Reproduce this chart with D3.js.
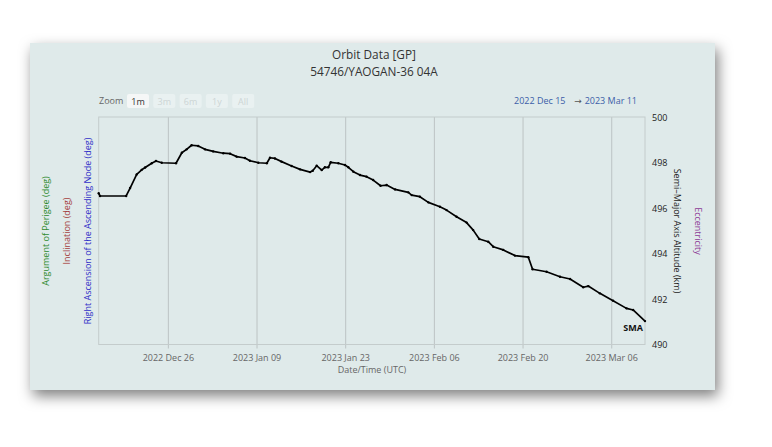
<!DOCTYPE html>
<html><head><meta charset="utf-8">
<script src="https://cdn.jsdelivr.net/npm/d3@7"></script>
<style>
html,body{margin:0;padding:0;background:#fff;}
svg{display:block;font-family:"Open Sans","DejaVu Sans",sans-serif;}
</style></head>
<body>
<svg id="chart" width="772" height="447"></svg>
<script>
// ---- data ----
const titleText = "Orbit Data [GP]";
const subtitleText = "54746/YAOGAN-36 04A";
const zoomButtons = ["1m","3m","6m","1y","All"];
const rangeStart = "2022 Dec 15", rangeEnd = "2023 Mar 11";
const xDomain = ["2022-12-15T02:00Z","2023-03-11T08:00Z"];
const xTicks = ["2022-12-26","2023-01-09","2023-01-23","2023-02-06","2023-02-20","2023-03-06"];
const yTicks = [490,492,494,496,498,500];
const smaTimes = [
"2022-12-15T02:00Z","2022-12-15T07:00Z","2022-12-19T10:00Z","2022-12-20T01:00Z","2022-12-21T02:00Z",
"2022-12-21T21:00Z","2022-12-22T10:00Z","2022-12-23T11:00Z","2022-12-24T03:00Z","2022-12-25T01:00Z",
"2022-12-27T07:00Z","2022-12-28T05:00Z","2022-12-28T23:00Z","2022-12-29T18:00Z","2022-12-30T19:00Z",
"2022-12-31T21:00Z","2023-01-02T04:00Z","2023-01-03T18:00Z","2023-01-04T20:00Z","2023-01-05T21:00Z",
"2023-01-07T04:00Z","2023-01-07T23:00Z","2023-01-09T07:00Z","2023-01-10T15:00Z","2023-01-11T03:00Z",
"2023-01-11T22:00Z","2023-01-12T23:00Z","2023-01-14T13:00Z","2023-01-15T21:00Z","2023-01-17T11:00Z",
"2023-01-17T21:00Z","2023-01-18T12:00Z","2023-01-19T07:00Z","2023-01-19T19:00Z","2023-01-20T08:00Z",
"2023-01-20T17:00Z","2023-01-21T22:00Z","2023-01-22T23:00Z","2023-01-23T12:00Z","2023-01-24T07:00Z",
"2023-01-25T08:00Z","2023-01-26T09:00Z","2023-01-27T10:00Z","2023-01-28T14:00Z","2023-01-29T13:00Z",
"2023-01-30T21:00Z","2023-02-01T23:00Z","2023-02-02T12:00Z","2023-02-03T19:00Z","2023-02-05T03:00Z",
"2023-02-06T23:00Z","2023-02-08T00:00Z","2023-02-09T14:00Z","2023-02-11T04:00Z","2023-02-12T05:00Z",
"2023-02-13T04:00Z","2023-02-14T14:00Z","2023-02-15T09:00Z","2023-02-16T23:00Z","2023-02-18T19:00Z",
"2023-02-20T22:00Z","2023-02-21T14:00Z","2023-02-23T19:00Z","2023-02-25T22:00Z","2023-02-27T12:00Z",
"2023-03-01T14:00Z","2023-03-02T09:00Z","2023-03-04T05:00Z","2023-03-06T07:00Z","2023-03-08T10:00Z",
"2023-03-09T11:00Z","2023-03-11T08:00Z"];
const smaValues = [
496.67,496.55,496.55,496.90,497.50,
497.70,497.80,497.99,498.09,498.01,
497.99,498.45,498.60,498.78,498.75,
498.60,498.51,498.43,498.41,498.28,
498.22,498.10,498.01,497.99,498.23,
498.20,498.06,497.87,497.72,497.60,
497.66,497.88,497.69,497.81,497.81,
498.03,497.99,497.91,497.81,497.62,
497.47,497.40,497.25,497.00,497.03,
496.84,496.71,496.59,496.52,496.27,
496.08,495.93,495.64,495.38,495.05,
494.66,494.54,494.32,494.18,493.93,
493.86,493.33,493.22,493.00,492.90,
492.54,492.59,492.27,491.95,491.61,
491.54,491.05];

// ---- layout ----
const svg = d3.select("#chart");
const panel = {x:30, y:43, w:685, h:347};
const plot = {l:98.7, r:645, t:117, b:344.5};

const defs = svg.append("defs");
const f = defs.append("filter").attr("id","sh").attr("x","-10%").attr("y","-15%").attr("width","125%").attr("height","140%");
f.append("feDropShadow").attr("dx",3).attr("dy",6).attr("stdDeviation",7).attr("flood-color","#000").attr("flood-opacity",0.5);

svg.append("rect").attr("x",panel.x).attr("y",panel.y).attr("width",panel.w).attr("height",panel.h)
  .attr("fill","#dfeaea").attr("filter","url(#sh)");

// scales
const x = d3.scaleUtc().domain(xDomain.map(d=>new Date(d))).range([plot.l, plot.r]);
const y = d3.scaleLinear().domain([490,500]).range([plot.b+0.5, plot.t+0.5]);

// titles
svg.append("text").attr("x",374).attr("y",58.5).attr("text-anchor","middle")
  .attr("font-size",11.8).attr("fill","#333").text(titleText);
svg.append("text").attr("x",374).attr("y",75.5).attr("text-anchor","middle")
  .attr("font-size",11.8).attr("fill","#333").text(subtitleText);

// zoom buttons
svg.append("text").attr("x",99).attr("y",104).attr("font-size",9).attr("fill","#666").text("Zoom");
zoomButtons.forEach((b,i)=>{
  const bx = 127 + i*26.3;
  svg.append("rect").attr("x",bx).attr("y",94).attr("width",22).attr("height",14).attr("rx",2)
    .attr("fill", i===0 ? "#f5f7f7" : "#e9f1f1");
  svg.append("text").attr("x",bx+11).attr("y",104.5).attr("text-anchor","middle").attr("font-size",9)
    .attr("fill", i===0 ? "#333" : "#cdd5d5").text(b);
});
svg.append("text").attr("x",514).attr("y",104).attr("font-size",9).attr("fill","#3b5ea8").text(rangeStart);
svg.append("text").attr("x",578).attr("y",104).attr("text-anchor","middle").attr("font-size",9).attr("fill","#555").text("\u2192");
svg.append("text").attr("x",637).attr("y",104).attr("text-anchor","end").attr("font-size",9).attr("fill","#3b5ea8").text(rangeEnd);

// gridlines + x axis
const xAxis = d3.axisBottom(x).tickValues(xTicks.map(d=>new Date(d+"T00:00Z")))
  .tickFormat(d3.utcFormat("%Y %b %d")).tickSize(plot.b-plot.t+4).tickPadding(6);
const gx = svg.append("g").attr("transform",`translate(0,${plot.t})`).call(xAxis);
gx.select(".domain").remove();
gx.selectAll("line").attr("stroke","#bcc3c4");
gx.selectAll("text").attr("fill","#666").attr("font-size",9).attr("font-family","'Open Sans',sans-serif");

// plot border
svg.append("rect").attr("x",plot.l).attr("y",plot.t).attr("width",plot.r-plot.l).attr("height",plot.b-plot.t)
  .attr("fill","none").attr("stroke","#c4cccc").attr("stroke-width",1);

// y axis right
const yAxis = d3.axisRight(y).tickValues(yTicks).tickSize(0).tickPadding(7);
const gy = svg.append("g").attr("transform",`translate(${plot.r},0)`).call(yAxis);
gy.select(".domain").remove();
gy.selectAll("text").attr("fill","#222").attr("font-size",9).attr("font-family","'Open Sans',sans-serif");

// axis titles
svg.append("text").attr("x",372).attr("y",373).attr("text-anchor","middle").attr("font-size",9).attr("fill","#666").text("Date/Time (UTC)");
function vtitle(tx,ty,rot,txt,col){
  svg.append("text").attr("transform",`translate(${tx},${ty}) rotate(${rot})`).attr("text-anchor","middle")
    .attr("font-size",9).attr("fill",col).text(txt);
}
vtitle(674,231,90,"Semi\u2013Major Axis Altitude (km)","#222");
vtitle(695,231,90,"Eccentricity","#8d3a96");
vtitle(91,231,-90,"Right Ascension of the Ascending Node (deg)","#2f2fc8");
vtitle(70,231,-90,"Inclination (deg)","#a5403d");
vtitle(49,231,-90,"Argument of Perigee (deg)","#2e8a2e");

// series
const data = smaTimes.map((t,i)=>({t:new Date(t), v:smaValues[i]}));
const line = d3.line().x(d=>x(d.t)).y(d=>y(d.v));
svg.append("path").datum(data).attr("d",line).attr("fill","none").attr("stroke","#000").attr("stroke-width",1.7).attr("stroke-linejoin","round");
svg.selectAll("circle.m").data(data).enter().append("circle").attr("class","m")
  .attr("cx",d=>x(d.t)).attr("cy",d=>y(d.v)).attr("r",1.2).attr("fill","#000");

// series label
svg.append("text").attr("x",643).attr("y",331).attr("text-anchor","end").attr("font-size",9)
  .attr("font-weight","bold").attr("fill","#111").text("SMA");
</script>
</body></html>
